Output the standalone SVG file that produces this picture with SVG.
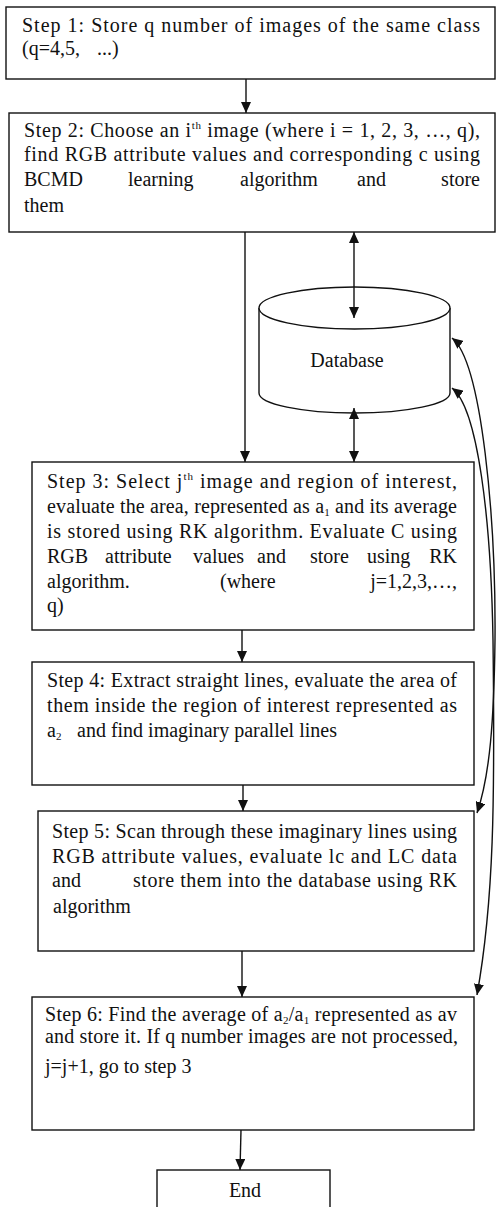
<svg xmlns="http://www.w3.org/2000/svg" width="496" height="1207" viewBox="0 0 496 1207">
<style>
.box{fill:#fff;stroke:#111;stroke-width:1.4}
.t{font-family:"Liberation Serif","Times New Roman",serif;font-size:20px;fill:#111}
.sm{font-size:11px}
.c{fill:none;stroke:#111;stroke-width:1.4}
</style>
<defs>
<marker id="ah" viewBox="0 0 11 10" refX="11" refY="5" markerWidth="11" markerHeight="10" markerUnits="userSpaceOnUse" orient="auto-start-reverse">
<path d="M0,0 L11,5 L0,10 z" fill="#111"/>
</marker>
</defs>
<rect width="496" height="1207" fill="#fff"/>

<g id="step1">
<rect class="box" x="6" y="7" width="489" height="72"/>
<text class="t" x="22" y="32" textLength="458" lengthAdjust="spacing">Step 1: Store q number of images of the same class</text>
<text class="t" y="55"><tspan x="22">(q=4,5,</tspan><tspan x="97">...)</tspan></text>
</g>

<g id="step2">
<rect class="box" x="9" y="113" width="486" height="119"/>
<text class="t" x="24" y="137" textLength="456" lengthAdjust="spacing">Step 2: Choose an i<tspan class="sm" dy="-8">th</tspan><tspan dy="8"> image (where i = 1, 2, 3, …, q),</tspan></text>
<text class="t" x="24" y="161" textLength="456" lengthAdjust="spacing">find RGB attribute values and corresponding c using</text>
<text class="t" y="186"><tspan x="24">BCMD</tspan><tspan x="128">learning</tspan><tspan x="240">algorithm</tspan><tspan x="357">and</tspan><tspan x="480" text-anchor="end">store</tspan></text>
<text class="t" x="24" y="212">them</text>
</g>

<g id="database">
<path class="box" d="M259,308 L259,393 A95.5,20 0 0 0 450,393 L450,308"/>
<ellipse class="box" cx="354.5" cy="308" rx="95.5" ry="21"/>
<text class="t" x="347" y="367" text-anchor="middle">Database</text>
</g>

<g id="step3">
<rect class="box" x="32" y="462" width="442" height="168"/>
<text class="t" x="47" y="488" textLength="410" lengthAdjust="spacing">Step 3: Select j<tspan class="sm" dy="-8">th</tspan><tspan dy="8"> image and region of interest,</tspan></text>
<text class="t" x="47" y="513" textLength="410" lengthAdjust="spacing">evaluate the area, represented as a<tspan class="sm" dy="3">1</tspan><tspan dy="-3"> and its average</tspan></text>
<text class="t" x="47" y="538" textLength="410" lengthAdjust="spacing">is stored using RK algorithm. Evaluate C using</text>
<text class="t" y="563"><tspan x="47">RGB</tspan><tspan x="105">attribute</tspan><tspan x="193">values</tspan><tspan x="257">and</tspan><tspan x="310">store</tspan><tspan x="367">using</tspan><tspan x="457" text-anchor="end">RK</tspan></text>
<text class="t" y="588"><tspan x="47">algorithm.</tspan><tspan x="220">(where</tspan><tspan x="457" text-anchor="end">j=1,2,3,…,</tspan></text>
<text class="t" x="47" y="612">q)</text>
</g>

<g id="step4">
<rect class="box" x="32" y="662" width="442" height="123"/>
<text class="t" x="47" y="687" textLength="410" lengthAdjust="spacing">Step 4: Extract straight lines, evaluate the area of</text>
<text class="t" x="47" y="712" textLength="410" lengthAdjust="spacing">them inside the region of interest represented as</text>
<text class="t" y="737"><tspan x="47">a</tspan><tspan class="sm" dy="3">2</tspan><tspan x="77" dy="-3">and find imaginary parallel lines</tspan></text>
</g>

<g id="step5">
<rect class="box" x="38" y="811" width="436" height="140"/>
<text class="t" x="52" y="838" textLength="405" lengthAdjust="spacing">Step 5: Scan through these imaginary lines using</text>
<text class="t" x="52" y="863" textLength="405" lengthAdjust="spacing">RGB attribute values, evaluate lc and LC data</text>
<text class="t" y="887"><tspan x="52">and</tspan></text>
<text class="t" x="133" y="887" textLength="324" lengthAdjust="spacing">store them into the database using RK</text>
<text class="t" x="53" y="913">algorithm</text>
</g>

<g id="step6">
<rect class="box" x="32" y="997" width="442" height="133"/>
<text class="t" x="45" y="1021" textLength="412" lengthAdjust="spacing">Step 6: Find the average of a<tspan class="sm" dy="3">2</tspan><tspan dy="-3">/a</tspan><tspan class="sm" dy="3">1</tspan><tspan dy="-3"> represented as av</tspan></text>
<text class="t" x="45" y="1043" textLength="413" lengthAdjust="spacing">and store it. If q number images are not processed,</text>
<text class="t" x="45" y="1073">j=j+1, go to step 3</text>
</g>

<g id="end">
<rect class="box" x="157" y="1170" width="173" height="60"/>
<text class="t" x="245" y="1197" text-anchor="middle">End</text>
</g>

<g id="connectors">
<line class="c" x1="246" y1="79" x2="246" y2="113" marker-end="url(#ah)"/>
<line class="c" x1="245" y1="232" x2="245" y2="462" marker-end="url(#ah)"/>
<line class="c" x1="354" y1="232" x2="354" y2="318" marker-start="url(#ah)" marker-end="url(#ah)"/>
<line class="c" x1="354" y1="408" x2="354" y2="462" marker-start="url(#ah)" marker-end="url(#ah)"/>
<line class="c" x1="242" y1="630" x2="242" y2="662" marker-end="url(#ah)"/>
<line class="c" x1="243" y1="785" x2="243" y2="811" marker-end="url(#ah)"/>
<line class="c" x1="242" y1="951" x2="242" y2="997" marker-end="url(#ah)"/>
<line class="c" x1="241" y1="1130" x2="240" y2="1170" marker-end="url(#ah)"/>
<path class="c" d="M452,338 C482,362 496,520 495,640 C494,720 490,775 477,813" marker-start="url(#ah)" marker-end="url(#ah)"/>
<path class="c" d="M452,388 C478,408 491,520 493,640 C495,800 494,900 477,995" marker-start="url(#ah)" marker-end="url(#ah)"/>
</g>
</svg>
